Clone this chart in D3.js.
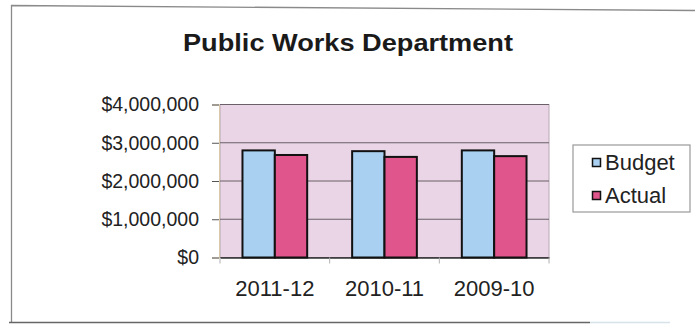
<!DOCTYPE html>
<html>
<head>
<meta charset="utf-8">
<script src="https://cdn.jsdelivr.net/npm/d3@7/dist/d3.min.js"></script>
<style>
  html, body { margin: 0; padding: 0; background: #ffffff; }
  svg { display: block; font-family: "Liberation Sans", Arial, sans-serif; }
</style>
</head>
<body>
<svg id="chart" width="695" height="327"></svg>
<script>
// Budget vs. actual spending by fiscal year
const categories = ["2011-12", "2010-11", "2009-10"];
const budget = [2800000, 2780000, 2800000];
const actual = [2680000, 2630000, 2650000];
const seriesNames = ["Budget", "Actual"];
const yTicks = [0, 1000000, 2000000, 3000000, 4000000];

const colors = { Budget: "#a9d0f0", Actual: "#e0558b" };

const svg = d3.select("#chart");
const W = 695, H = 327;
const plot = { left: 220, right: 549, top: 104.5, bottom: 257.5 };

// Outer chart frame (top, left and bottom edges)
svg.append("path")
  .attr("d", `M11.5,322 L11.5,5.5 L${W},10.5`)
  .attr("fill", "none").attr("stroke", "#8a8a8a").attr("stroke-width", 1.3);
svg.append("line")
  .attr("x1", 9).attr("x2", 590).attr("y1", 322.5).attr("y2", 322.5)
  .attr("stroke", "#666").attr("stroke-width", 1.5);
svg.append("line")
  .attr("x1", 590).attr("x2", 670).attr("y1", 322.5).attr("y2", 322.5)
  .attr("stroke", "#d6e4ea").attr("stroke-width", 1.5);

// Title
svg.append("text")
  .attr("x", 183).attr("y", 51)
  .attr("font-weight", "bold").attr("font-size", 24)
  .attr("textLength", 330).attr("lengthAdjust", "spacingAndGlyphs")
  .attr("fill", "#1a1a1a")
  .text("Public Works Department");

const x0 = d3.scaleBand().domain(categories)
  .range([plot.left, plot.right]).paddingInner(0.41).paddingOuter(0.205);
const x1 = d3.scaleBand().domain(seriesNames).range([0, x0.bandwidth()]);
const y = d3.scaleLinear().domain([0, 4000000]).range([plot.bottom, plot.top]);

// Plot area background
svg.append("rect")
  .attr("x", plot.left).attr("y", plot.top)
  .attr("width", plot.right - plot.left).attr("height", plot.bottom - plot.top)
  .attr("fill", "#e9d5e5")
  .attr("stroke", "#b8a8b4").attr("stroke-width", 1);

// Gridlines
svg.append("g").selectAll("line").data(yTicks).join("line")
  .attr("x1", plot.left).attr("x2", plot.right)
  .attr("y1", d => y(d)).attr("y2", d => y(d))
  .attr("stroke", "#6a6068").attr("stroke-width", 1.2);

// Y axis
const yAxis = d3.axisLeft(y).tickValues(yTicks)
  .tickFormat(d => "$" + d3.format(",")(d)).tickSize(7).tickPadding(13);
const gy = svg.append("g").attr("transform", `translate(${plot.left - 1},0)`).call(yAxis);
gy.select(".domain").attr("stroke", "#d8c8a8");
gy.selectAll(".tick line").attr("stroke", "#555");
gy.selectAll(".tick text")
  .attr("font-size", 19.5).attr("fill", "#222")
  .attr("font-family", "Liberation Sans, Arial, sans-serif");

// X axis
const xAxis = d3.axisBottom(x0).tickSize(0).tickPadding(23);
const gx = svg.append("g").attr("transform", `translate(0,${plot.bottom})`).call(xAxis);
gx.select(".domain").attr("stroke", "#333").attr("stroke-width", 1.5);
gx.selectAll(".tick text")
  .attr("font-size", 22).attr("fill", "#222")
  .attr("font-family", "Liberation Sans, Arial, sans-serif");
// Category separator ticks
const step = x0.step();
svg.append("g").selectAll("line").data(d3.range(categories.length + 1)).join("line")
  .attr("x1", i => plot.left + i * step).attr("x2", i => plot.left + i * step)
  .attr("y1", plot.bottom).attr("y2", plot.bottom + 6)
  .attr("stroke", "#b0b0b0").attr("stroke-width", 1);

// Bars
const rows = categories.map((c, i) => ({ cat: c, Budget: budget[i], Actual: actual[i] }));
svg.append("g").selectAll("g").data(rows).join("g")
  .attr("transform", d => `translate(${x0(d.cat)},0)`)
  .selectAll("rect").data(d => seriesNames.map(s => ({ s, v: d[s] }))).join("rect")
  .attr("x", d => x1(d.s)).attr("width", x1.bandwidth())
  .attr("y", d => y(d.v)).attr("height", d => y(0) - y(d.v))
  .attr("fill", d => colors[d.s])
  .attr("stroke", "#111").attr("stroke-width", 2);

// Legend
const lg = svg.append("g").attr("transform", "translate(573,145)");
lg.append("rect").attr("width", 117).attr("height", 67)
  .attr("fill", "#fff").attr("stroke", "#999").attr("stroke-width", 1.2);
seriesNames.forEach((s, i) => {
  const top = 13.5 + i * 33;
  lg.append("rect").attr("x", 19.5).attr("y", top).attr("width", 8).attr("height", 8)
    .attr("fill", colors[s]).attr("stroke", "#111").attr("stroke-width", 1.5);
  lg.append("text").attr("x", 32).attr("y", top + 11.5)
    .attr("font-size", 22).attr("fill", "#222").text(s);
});
</script>
</body>
</html>
